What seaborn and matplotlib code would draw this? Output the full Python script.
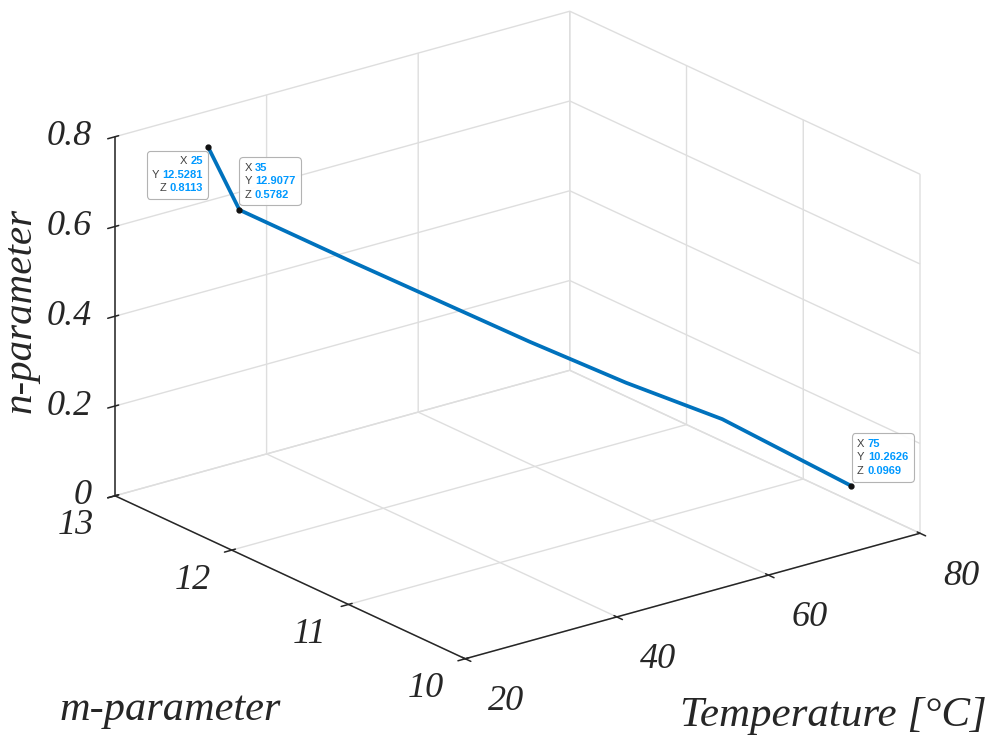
import numpy as np
import matplotlib
matplotlib.use("Agg")
import matplotlib.pyplot as plt
import seaborn as sns
from mpl_toolkits.mplot3d import proj3d
from matplotlib.offsetbox import TextArea, HPacker, VPacker, AnnotationBbox

# ---- data ----
temperature = [25, 35, 45, 55, 60, 65, 75]
m_param = [12.5281, 12.9077, 12.59, 11.72, 11.22, 10.72, 10.2626]
n_param = [0.8113, 0.5782, 0.454, 0.335, 0.281, 0.237, 0.0969]
tip_idx = [0, 1, 6]

x_ticks = [20, 40, 60, 80]
x_tick_labels = ["20", "40", "60", "80"]
y_ticks = [10, 11, 12, 13]
y_tick_labels = ["10", "11", "12", "13"]
z_ticks = [0, 0.2, 0.4, 0.6, 0.8]
z_tick_labels = ["0", "0.2", "0.4", "0.6", "0.8"]

sns.set_style("white")
plt.rcParams["font.family"] = ["Liberation Serif", "DejaVu Serif"]
plt.rcParams["font.style"] = "italic"
plt.rcParams["grid.color"] = "#dedede"
plt.rcParams["grid.linewidth"] = 1.0

W, H = 989, 737
fig = plt.figure(figsize=(W / 100, H / 100), dpi=100)
fig.patch.set_facecolor("white")
ax = fig.add_axes([0, 0, 1, 1], projection="3d", proj_type="ortho")
ax.set_box_aspect((1, 1, 0.67))
ax.view_init(elev=21, azim=-127.6)
ax.set_facecolor("white")

line_blue = "#0072BD"
ax.plot(temperature, m_param, n_param, color=line_blue, lw=2.7, zorder=5)
ax.plot([temperature[i] for i in tip_idx], [m_param[i] for i in tip_idx],
        [n_param[i] for i in tip_idx], "o", ms=3.5, color="#111111", zorder=6)

xlo, xhi, ylo, yhi, zlo, zhi = 20, 80, 10, 13, 0, 0.8
ax.set_xlim(xlo, xhi)
ax.set_ylim(ylo, yhi)
ax.set_zlim(zlo, zhi)
ax.set_xticks(x_ticks)
ax.set_yticks(y_ticks)
ax.set_zticks(z_ticks)

axc = (0.15, 0.15, 0.15)
for axis in (ax.xaxis, ax.yaxis, ax.zaxis):
    axis.set_tick_params(labelbottom=False, labeltop=False)
    axis.set_pane_color((1, 1, 1, 0))
    axis.pane.set_edgecolor("#dedede")
    axis.line.set_color(axc)
    axis.line.set_linewidth(1.1)
    axis._axinfo["tick"]["color"] = axc
    axis._axinfo["tick"]["linewidth"] = {True: 1.1, False: 1.1}
    axis._axinfo["grid"]["color"] = "#dedede"
    axis._axinfo["grid"]["linewidth"] = 1.0
ax.grid(True)

# ---- calibrate placement so the box matches the reference ----
fig.canvas.draw()


def corners_px():
    M = ax.get_proj()
    pts = []
    for x in (xlo, xhi):
        for y in (ylo, yhi):
            for z in (zlo, zhi):
                xs, ys, _ = proj3d.proj_transform(x, y, z, M)
                pts.append(ax.transData.transform((xs, ys)))
    return np.array(pts)


p = corners_px()
bw = p[:, 0].max() - p[:, 0].min()
bcx = (p[:, 0].max() + p[:, 0].min()) / 2
bcy = (p[:, 1].max() + p[:, 1].min()) / 2
tx0, tx1, ty0, ty1 = 115, 920, H - 660, H - 10
k = (tx1 - tx0) / bw
bb = ax.get_position().transformed(fig.transFigure)
side = min(bb.width, bb.height)
cx, cy = bb.x0 + bb.width / 2, bb.y0 + bb.height / 2
ncx = (tx0 + tx1) / 2 - k * (bcx - cx)
ncy = (ty0 + ty1) / 2 - k * (bcy - cy)
ns = side * k
ax.set_position([(ncx - ns / 2) / W, (ncy - ns / 2) / H, ns / W, ns / H])
fig.canvas.draw()
M = ax.get_proj()


def proj2d(x, y, z):
    xs, ys, _ = proj3d.proj_transform(x, y, z, M)
    return xs, ys


# ---- tick labels just outside the box (MATLAB-like placement) ----
tfs = 26
for v, s in zip(x_ticks, x_tick_labels):
    px, py = proj2d(v, ylo - 0.117 * (yhi - ylo), zlo - 0.066 * (zhi - zlo))
    ax.text2D(px, py, s, transform=ax.transData, ha="center", va="center",
              fontsize=tfs, color=axc)
for v, s in zip(y_ticks, y_tick_labels):
    px, py = proj2d(xlo - 0.086 * (xhi - xlo), v, zlo - 0.054 * (zhi - zlo))
    ax.text2D(px, py, s, transform=ax.transData, ha="center", va="center",
              fontsize=tfs, color=axc)
for v, s in zip(z_ticks, z_tick_labels):
    px, py = proj2d(xlo - 0.032 * (xhi - xlo), yhi + 0.0242 * (yhi - ylo), v)
    ax.text2D(px, py, s, transform=ax.transData, ha="right", va="center",
              fontsize=tfs, color=axc)

# ---- data tips ----
lab_col = (0.25, 0.25, 0.25)
val_col = (0.0, 0.6, 1.0)
offsets = [(-22, -20), (22, 20.5), (22.5, 20.5)]
aligns = ["right", "left", "left"]
for i, off, al in zip(tip_idx, offsets, aligns):
    rows = []
    for lab, val in (("X", f"{temperature[i]:g}"), ("Y", f"{m_param[i]:.4f}"),
                     ("Z", f"{n_param[i]:.4f}")):
        rows.append(HPacker(children=[
            TextArea(lab + " ", textprops=dict(color=lab_col, fontsize=8,
                                               family="Liberation Sans", style="normal")),
            TextArea(val, textprops=dict(color=val_col, fontsize=8, weight="bold",
                                         family="Liberation Sans", style="normal"))],
            pad=0, sep=0))
    box = VPacker(children=rows, pad=0, sep=2.5, align=al)
    ab = AnnotationBbox(box, proj2d(temperature[i], m_param[i], n_param[i]),
                        xycoords="data", xybox=off,
                        boxcoords="offset points", box_alignment=(0.5, 0.5),
                        frameon=True, pad=0.4,
                        bboxprops=dict(boxstyle="round,pad=0.4,rounding_size=0.25",
                                       fc=(1, 1, 1, 0.92), ec=(0.7, 0.7, 0.7), lw=0.8))
    ab.set_zorder(10)
    ax.add_artist(ab)

# ---- axis labels ----
fig.text(21 / W, 1 - 310 / H, "n-parameter", rotation=90, ha="center", va="center",
         fontsize=29.5, color=axc)
fig.text(170 / W, 1 - 710 / H, "m-parameter", ha="center", va="center",
         fontsize=30.5, color=axc)
fig.text(833 / W, 1 - 716 / H, "Temperature [°C]", ha="center", va="center",
         fontsize=31, color=axc)

fig.savefig("out.png", dpi=100, facecolor="white")
